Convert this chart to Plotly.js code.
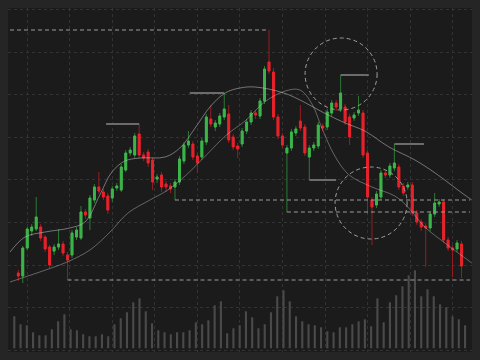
<!DOCTYPE html>
<html><head><meta charset="utf-8">
<script src="https://cdn.plot.ly/plotly-3.0.1.min.js"></script>
<style>html,body{margin:0;padding:0;background:#252525;}#chart{width:480px;height:360px;}</style>
</head><body><div id="chart"></div>
<script>
// ---- candle data (price units) ----
const candleOpen  = [87,84,112,129,131,133,123,113,109,113,116,105,105,123,122,148,142,160,173,168,164,162,172,170,190,207,205,226,205,208,200,181,185,176,174,173,178,199,215,216,204,203,218,241,233,236,243,246,223,214,216,229,238,247,244,259,298,288,243,224,207,212,227,239,233,203,212,214,234,233,247,257,251,253,243,242,247,247,207,160,155,163,187,185,192,193,174,173,175,147,138,134,132,146,156,158,120,112,111,116];
const candleHigh  = [90,114,133,136,163,136,125,115,116,131,119,108,130,133,154,151,165,176,188,171,167,174,177,196,210,213,227,236,208,211,203,186,188,179,177,181,204,218,229,219,207,222,246,255,240,247,267,255,226,217,232,241,250,250,262,294,330,292,246,227,215,231,234,255,236,215,218,238,237,251,260,260,285,256,246,248,264,250,210,163,169,190,190,197,216,196,177,178,178,150,141,137,149,167,161,161,123,115,120,119];
const candleLow   = [79,77,110,124,129,119,108,92,105,110,104,80,102,120,120,141,130,157,166,160,146,158,169,168,188,204,202,202,199,193,170,177,168,168,167,160,175,196,212,200,187,200,215,233,229,233,240,217,210,202,213,226,235,241,241,256,286,240,221,212,148,209,224,229,204,180,209,211,229,230,244,249,248,235,215,239,244,202,146,115,152,160,182,182,189,170,164,170,144,135,129,93,129,143,153,117,109,83,108,82];
const candleClose = [84,112,131,133,143,122,111,95,113,116,107,100,127,130,148,145,162,173,169,163,150,171,174,193,207,210,224,205,202,197,178,183,173,173,171,178,201,215,219,203,197,219,243,236,237,244,251,220,213,211,229,238,247,245,259,291,289,243,224,215,212,228,231,232,207,212,215,235,232,248,257,253,267,238,223,245,250,205,163,153,166,187,185,194,197,173,167,175,147,138,133,132,146,157,158,120,112,110,117,94];

// ---- volume data ----
const volume = [32,24,23,16,13,13,19,27,34,19,18,14,12,12,14,12,24,30,36,46,50,37,25,18,
                16,14,16,16,18,26,24,28,43,47,15,20,23,37,31,20,24,36,52,58,47,32,27,24,23,
                21,17,16,21,21,24,27,29,22,50,26,46,53,62,73,78,52,59,52,44,41,32,29,23];

// ---- moving averages (candle index, price) ----
const maFastX = [-1.85,1.5,6,11.5,14.9,18.2,20.9,23.8,27.2,32.8,36.1,39.5,42.8,46.2,49.5,52.9,59.3,63.8,68.3,73,77.4,82.8,88.6,93.1,99.1,101.3];
const maFastY = [108,123,128,132,138,165,188,199,202,203,212,232,253,267,272,273,267,258,247,237,229,213,200,187,167,160];
const maSlowX = [-1.85,4.8,10.9,16,20.5,24.5,29.4,33.4,37.5,42,46.5,50.9,55,59.6,62.9,65.6,67.8,70.7,73.9,79,84.1,87,90.8,95.3,101.3];
const maSlowY = [78,88,98,110,128,147,160,170,185,205,225,240,258,269,270,256,232,204,185,173,164,153,133,117,97];

const N = candleOpen.length;
const idx = Array.from({length:N},(_,i)=>i);
const vidx = volume.map((_,j)=>j);
const bodyHi = candleOpen.map((o,i)=>Math.max(o,candleClose[i]));
const bodyLo = candleOpen.map((o,i)=>Math.min(o,candleClose[i]));

const GREEN='#3cb54a', RED='#e8222b', GREEN_W='#2b7a33', RED_W='#9a1c20';

const traces = [
  {type:'bar', x:vidx, y:volume, xaxis:'x2', yaxis:'y2', width:0.34,
   marker:{color:'#4a4a4a', line:{width:0}}, hoverinfo:'skip'},
  {type:'scatter', mode:'lines', x:maFastX, y:maFastY, line:{color:'rgba(190,190,190,0.55)', width:1, shape:'spline'}, hoverinfo:'skip'},
  {type:'scatter', mode:'lines', x:maSlowX, y:maSlowY, line:{color:'rgba(190,190,190,0.45)', width:1, shape:'spline'}, hoverinfo:'skip'},
  {type:'candlestick', x:idx, open:candleOpen, high:candleHigh, low:candleLow, close:candleClose,
   whiskerwidth:0,
   increasing:{line:{color:GREEN_W,width:1}, fillcolor:GREEN_W},
   decreasing:{line:{color:RED_W,width:1}, fillcolor:RED_W}, hoverinfo:'skip'},
  {type:'candlestick', x:idx, open:candleOpen, high:bodyHi, low:bodyLo, close:candleClose,
   whiskerwidth:0,
   increasing:{line:{color:GREEN,width:1}, fillcolor:GREEN},
   decreasing:{line:{color:RED,width:1}, fillcolor:RED}, hoverinfo:'skip'}
];

const DASH = {color:'#9c9c9c', width:1, dash:'4px,3px'};
const MARK = {color:'#6c6c6c', width:2};
const xRight = 100.9;
const shapes = [
  // dashed support / resistance lines
  {type:'line', xref:'x', yref:'y', x0:-1.85, x1:56, y0:candleHigh[56], y1:candleHigh[56], line:DASH},
  {type:'line', xref:'x', yref:'y', x0:35, x1:xRight, y0:candleLow[35], y1:candleLow[35], line:DASH},
  {type:'line', xref:'x', yref:'y', x0:60, x1:xRight, y0:candleLow[60], y1:candleLow[60], line:DASH},
  {type:'line', xref:'x', yref:'y', x0:11, x1:xRight, y0:candleLow[11], y1:candleLow[11], line:DASH},
  // marker lines
  {type:'line', xref:'x', yref:'y', x0:19.6, x1:27, y0:candleHigh[27], y1:candleHigh[27], line:MARK},
  {type:'line', xref:'x', yref:'y', x0:38.3, x1:46, y0:candleHigh[46], y1:candleHigh[46], line:MARK},
  {type:'line', xref:'x', yref:'y', x0:72, x1:78.3, y0:candleHigh[72], y1:candleHigh[72], line:MARK},
  {type:'line', xref:'x', yref:'y', x0:84, x1:90.6, y0:candleHigh[84], y1:candleHigh[84], line:MARK},
  {type:'line', xref:'x', yref:'y', x0:65, x1:71, y0:candleLow[65], y1:candleLow[65], line:MARK},
  // dashed circles
  {type:'circle', xref:'x', yref:'y', xsizemode:'pixel', ysizemode:'pixel', xanchor:72.1, yanchor:286,
   x0:-36, x1:36, y0:-36, y1:36, line:{color:'#a0a0a0', width:1, dash:'4px,3px'}},
  {type:'circle', xref:'x', yref:'y', xsizemode:'pixel', ysizemode:'pixel', xanchor:78.8, yanchor:157,
   x0:-36, x1:36, y0:-36, y1:36, line:{color:'#a0a0a0', width:1, dash:'4px,3px'}}
];

const layout = {
  width:480, height:360,
  margin:{l:8, r:8, t:8, b:8, pad:0},
  paper_bgcolor:'#252525', plot_bgcolor:'#1b1b1b',
  showlegend:false, boxgap:0.4,
  xaxis:{range:[-2.30,101.34], showgrid:true, gridcolor:'#333333', griddash:'dot', gridwidth:1,
         tick0:1.943, dtick:9.515, showticklabels:false, ticks:'', zeroline:false, showline:false,
         rangeslider:{visible:false}, fixedrange:true},
  yaxis:{range:[8,352], showgrid:true, gridcolor:'#333333', griddash:'dot', gridwidth:1,
         tick0:52.4, dtick:42.6, showticklabels:false, ticks:'', zeroline:false, showline:false, fixedrange:true},
  xaxis2:{overlaying:'x', range:[-1.006,73.11], visible:false, fixedrange:true},
  yaxis2:{overlaying:'y', range:[-3.7,340.3], visible:false, fixedrange:true},
  shapes:shapes
};
Plotly.newPlot('chart', traces, layout, {displayModeBar:false, staticPlot:true});
</script></body></html>
